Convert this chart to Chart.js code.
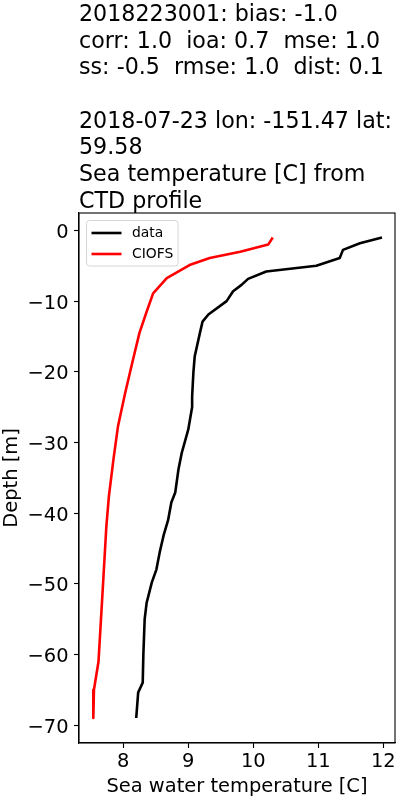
<!DOCTYPE html>
<html>
<head>
<meta charset="utf-8">
<script src="https://cdn.jsdelivr.net/npm/chart.js@4.4.0/dist/chart.umd.min.js"></script>
<style>
  body { margin: 0; background: #fff; }
  #wrap { position: relative; width: 400px; height: 800px; }
  #title {
    position: absolute; left: 79px; top: 0px;
    font-family: "DejaVu Sans", sans-serif; font-size: 22.2px; line-height: 26.65px;
    white-space: pre; color: #000;
  }
</style>
</head>
<body>
<div id="wrap">
  <canvas id="chart" width="400" height="800"></canvas>
  <div id="title"></div>
</div>
<script>
// title lines above the plot
const titleLines = [
    '2018223001: bias: -1.0',
    'corr: 1.0  ioa: 0.7  mse: 1.0',
    'ss: -0.5  rmse: 1.0  dist: 0.1',
    '',
    '2018-07-23 lon: -151.47 lat:',
    '59.58',
    'Sea temperature [C] from',
    'CTD profile'
];

// observed CTD profile
const dataDepth = [-1, -1.8, -2.75, -3.9, -5, -5.8, -6.85, -7.7, -8.6, -10, -11.9, -12.9, -14.5, -17.8, -20, -23.5, -25, -28.2, -31.5, -33.8, -37.1, -38.5, -41, -43.2, -45.6, -48, -49.8, -52.7, -55, -60, -64, -65.4, -69];
const dataTemp  = [11.98, 11.64, 11.38, 11.33, 10.97, 10.2, 9.92, 9.82, 9.69, 9.59, 9.31, 9.22, 9.18, 9.1, 9.08, 9.06, 9.06, 9.0, 8.9, 8.85, 8.8, 8.74, 8.69, 8.62, 8.56, 8.51, 8.44, 8.36, 8.33, 8.31, 8.3, 8.23, 8.2];

// CIOFS model profile
const modelDepth = [-1, -2, -3, -3.9, -4.9, -6.75, -8.9, -11.5, -14.5, -18.3, -23, -27.7, -32.4, -37.6, -42, -50, -61, -65, -69];
const modelTemp  = [10.3, 10.23, 9.8, 9.33, 9.02, 8.67, 8.46, 8.36, 8.25, 8.15, 8.03, 7.92, 7.85, 7.78, 7.74, 7.69, 7.62, 7.55, 7.54];

const xTicks = [8, 9, 10, 11, 12];
const yTicks = [0, -10, -20, -30, -40, -50, -60, -70];

document.getElementById('title').textContent = titleLines.join('\n');

const FONT = '"DejaVu Sans", sans-serif';
const minus = v => String(v).replace('-', '\u2212');

// frame around the plot area + matplotlib style legend in upper left
const framePlugin = {
    id: 'frame',
    afterDatasetsDraw(chart) {
        const { ctx, chartArea: a } = chart;
        ctx.save();
        ctx.strokeStyle = '#000';
        ctx.lineWidth = 1.1;
        ctx.strokeRect(a.left, a.top, a.right - a.left, a.bottom - a.top);

        const x = a.left + 7.5, y = a.top + 7.5, w = 91.5, h = 45.5;
        ctx.beginPath();
        ctx.roundRect(x, y, w, h, 3);
        ctx.fillStyle = 'rgba(255,255,255,0.8)';
        ctx.fill();
        ctx.lineWidth = 1;
        ctx.strokeStyle = '#d6d6d6';
        ctx.stroke();

        ctx.font = '13.9px ' + FONT;
        ctx.textBaseline = 'middle';
        chart.data.datasets.forEach((ds, i) => {
            const ly = y + 12.5 + i * 21;
            ctx.beginPath();
            ctx.moveTo(x + 5, ly);
            ctx.lineTo(x + 35, ly);
            ctx.strokeStyle = ds.borderColor;
            ctx.lineWidth = 2.6;
            ctx.stroke();
            ctx.fillStyle = '#000';
            ctx.fillText(ds.label, x + 45.5, ly);
        });
        ctx.restore();
    }
};

new Chart(document.getElementById('chart'), {
    type: 'scatter',
    data: {
        datasets: [
            {
                label: 'data',
                data: dataDepth.map((d, i) => ({ x: dataTemp[i], y: d })),
                borderColor: '#000000',
                backgroundColor: '#000000',
                showLine: true,
                borderWidth: 2.6,
                borderJoinStyle: 'round',
                pointRadius: 0
            },
            {
                label: 'CIOFS',
                data: modelDepth.map((d, i) => ({ x: modelTemp[i], y: d })),
                borderColor: '#ff0000',
                backgroundColor: '#ff0000',
                showLine: true,
                borderWidth: 2.6,
                borderJoinStyle: 'round',
                pointRadius: 0
            }
        ]
    },
    options: {
        responsive: false,
        animation: false,
        devicePixelRatio: 1,
        layout: { padding: { top: 213, right: 5, bottom: 0, left: 0 } },
        plugins: { legend: { display: false }, tooltip: { enabled: false } },
        scales: {
            x: {
                type: 'linear',
                min: 7.32,
                max: 12.18,
                afterFit: s => { s.height = 57; },
                afterBuildTicks: s => { s.ticks = xTicks.map(v => ({ value: v })); },
                grid: { drawOnChartArea: false, tickLength: 5, tickColor: '#000', tickWidth: 1.1 },
                border: { color: '#000', width: 1.1 },
                ticks: { color: '#000', font: { family: FONT, size: 19.44 }, padding: 2.5, maxRotation: 0, callback: v => minus(v) },
                title: { display: true, text: 'Sea water temperature [C]', color: '#000', font: { family: FONT, size: 19.44 }, padding: { top: 0, bottom: 1.5 } }
            },
            y: {
                type: 'linear',
                min: -72.54,
                max: 2.47,
                afterFit: s => { s.width = 79; },
                afterBuildTicks: s => { s.ticks = yTicks.map(v => ({ value: v })); },
                grid: { drawOnChartArea: false, tickLength: 5, tickColor: '#000', tickWidth: 1.1 },
                border: { color: '#000', width: 1.1 },
                ticks: { color: '#000', font: { family: FONT, size: 19.44 }, padding: 5.5, labelOffset: 2.5, callback: v => minus(v) },
                title: { display: true, text: 'Depth [m]', color: '#000', font: { family: FONT, size: 19.44 }, padding: { top: 0, bottom: 0 } }
            }
        }
    },
    plugins: [framePlugin]
});
</script>
</body>
</html>
